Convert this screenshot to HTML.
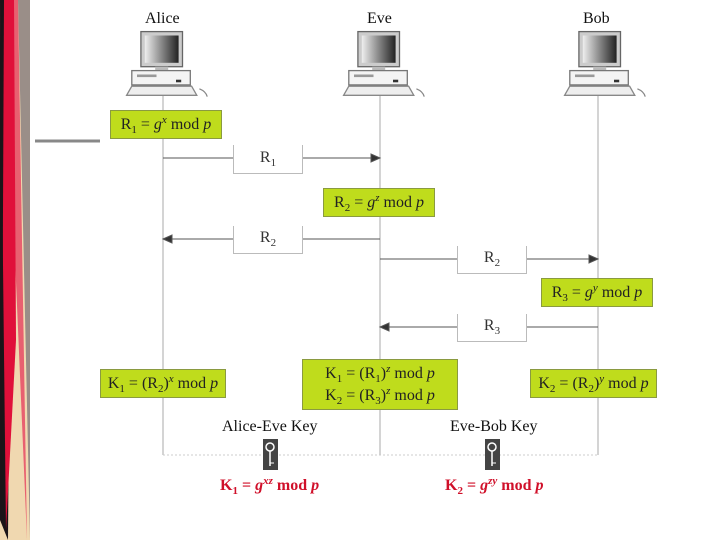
<!DOCTYPE html>
<html><head><meta charset="utf-8"><style>
body{margin:0;width:720px;height:540px;background:#fff;overflow:hidden;position:relative;font-family:"Liberation Serif",serif;}
sub,sup{line-height:0;font-size:11px;position:relative;vertical-align:baseline}
sub{top:4px}sup{top:-6px}
.b{position:absolute;background:#bfdc1c;border:1px solid #8a9a40;box-sizing:border-box;font-size:16px;color:#222;text-align:center;white-space:nowrap;}
.m{position:absolute;background:#fff;border:1px solid #bbb;border-top:none;box-sizing:border-box;font-size:16px;color:#333;text-align:center;}
.t{position:absolute;font-size:16px;color:#111;white-space:nowrap;}
.r{position:absolute;font-size:16px;color:#d0102a;font-weight:bold;white-space:nowrap;}
i{font-style:italic}
</style></head><body>
<svg width="720" height="540" style="position:absolute;left:0;top:0">
<defs>
<linearGradient id="sc" x1="0" y1="0" x2="1" y2="0"><stop offset="0" stop-color="#eee"/><stop offset="1" stop-color="#222"/></linearGradient>
<g id="pc">
<rect x="-17" y="-28" width="32" height="27" fill="#ccc" stroke="#666"/>
<rect x="-14" y="-25" width="26" height="21" fill="url(#sc)"/>
<rect x="-6" y="-1" width="10" height="3" fill="#bbb"/>
<rect x="-24" y="2" width="45" height="11" fill="#f4f4f4" stroke="#777"/>
<rect x="-20" y="5" width="15" height="2" fill="#999"/>
<rect x="10" y="9" width="4" height="2" fill="#333"/>
<path d="M-28 21 L-24 14 L22 14 L26 21 Z" fill="#eee" stroke="#888"/>
<path d="M28 16 Q33 18 34 22" stroke="#888" fill="none"/>
</g>
</defs>
<polygon points="0,0 30,0 30,540 0,540" fill="#f0d8b0"/>
<polygon points="18,0 30,0 30,540" fill="#9a8e88"/>
<polygon points="4,0 18,0 27,540" fill="#e86070"/>
<polygon points="0,0 12,0 8,540 0,520" fill="#1a1418"/>
<polygon points="0,0 14,0 16,340 6,530" fill="#e0103a"/>
<polygon points="0,0 4,0 2,420" fill="#1a1418"/>
<line x1="35" y1="141" x2="100" y2="141" stroke="#888" stroke-width="3"/>
<g stroke="#aaa" stroke-width="1">
<line x1="163" y1="92" x2="163" y2="455"/><line x1="380" y1="92" x2="380" y2="455"/><line x1="598" y1="92" x2="598" y2="455"/>
</g>
<line x1="163" y1="455" x2="598" y2="455" stroke="#ccc" stroke-dasharray="2,2"/>
<g stroke="#555" stroke-width="1" fill="#333">
<line x1="163" y1="158" x2="378" y2="158"/><path d="M380 158 l-9 -4 v8z"/>
<line x1="165" y1="239" x2="380" y2="239"/><path d="M163 239 l9 -4 v8z"/>
<line x1="380" y1="259" x2="596" y2="259"/><path d="M598 259 l-9 -4 v8z"/>
<line x1="382" y1="327" x2="598" y2="327"/><path d="M380 327 l9 -4 v8z"/>
</g>
<use href="#pc" transform="translate(163,68) scale(1.3)"/><use href="#pc" transform="translate(380,68) scale(1.3)"/><use href="#pc" transform="translate(601,68) scale(1.3)"/>
<g><rect x="263" y="439" width="15" height="31" fill="#444"/><circle cx="270" cy="447" r="4" fill="none" stroke="#fff" stroke-width="1.5"/><line x1="270" y1="451" x2="270" y2="466" stroke="#fff" stroke-width="1.5"/><line x1="270" y1="463" x2="274" y2="463" stroke="#fff"/></g>
<g><rect x="485" y="439" width="15" height="31" fill="#444"/><circle cx="492" cy="447" r="4" fill="none" stroke="#fff" stroke-width="1.5"/><line x1="492" y1="451" x2="492" y2="466" stroke="#fff" stroke-width="1.5"/><line x1="492" y1="463" x2="496" y2="463" stroke="#fff"/></g>
</svg>
<div class="t" style="left:145px;top:10px">Alice</div>
<div class="t" style="left:367px;top:10px">Eve</div>
<div class="t" style="left:583px;top:10px">Bob</div>
<div class="b" style="left:110px;top:110px;width:112px;height:29px;line-height:27px">R<sub>1</sub> = <i>g<sup>x</sup></i> mod <i>p</i></div>
<div class="m" style="left:233px;top:145px;width:70px;height:29px;line-height:26px">R<sub>1</sub></div>
<div class="b" style="left:323px;top:188px;width:112px;height:29px;line-height:27px">R<sub>2</sub> = <i>g<sup>z</sup></i> mod <i>p</i></div>
<div class="m" style="left:233px;top:226px;width:70px;height:28px;line-height:24px">R<sub>2</sub></div>
<div class="m" style="left:457px;top:246px;width:70px;height:28px;line-height:24px">R<sub>2</sub></div>
<div class="b" style="left:541px;top:278px;width:112px;height:29px;line-height:27px">R<sub>3</sub> = <i>g<sup>y</sup></i> mod <i>p</i></div>
<div class="m" style="left:457px;top:314px;width:70px;height:28px;line-height:24px">R<sub>3</sub></div>
<div class="b" style="left:100px;top:369px;width:126px;height:29px;line-height:27px">K<sub>1</sub> = (R<sub>2</sub>)<sup><i>x</i></sup> mod <i>p</i></div>
<div class="b" style="left:302px;top:359px;width:156px;height:51px;line-height:22px;padding-top:3px">K<sub>1</sub> = (R<sub>1</sub>)<sup><i>z</i></sup> mod <i>p</i><br>K<sub>2</sub> = (R<sub>3</sub>)<sup><i>z</i></sup> mod <i>p</i></div>
<div class="b" style="left:530px;top:369px;width:127px;height:29px;line-height:27px">K<sub>2</sub> = (R<sub>2</sub>)<sup><i>y</i></sup> mod <i>p</i></div>
<div class="t" style="left:222px;top:418px">Alice-Eve Key</div>
<div class="t" style="left:450px;top:418px">Eve-Bob Key</div>
<div class="r" style="left:220px;top:477px">K<sub>1</sub> = <i>g<sup>xz</sup></i> mod <i>p</i></div>
<div class="r" style="left:445px;top:477px">K<sub>2</sub> = <i>g<sup>zy</sup></i> mod <i>p</i></div>
</body></html>
